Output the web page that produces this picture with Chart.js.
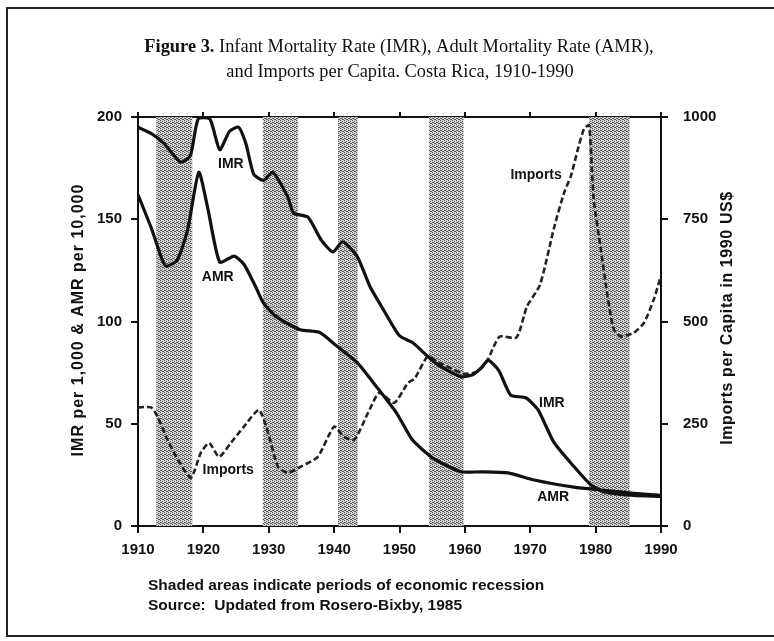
<!DOCTYPE html>
<html lang="en">
<head>
<meta charset="UTF-8">
<title>Figure 3 - Costa Rica IMR, AMR and Imports</title>
<script src="https://cdn.jsdelivr.net/npm/chart.js@4.4.2/dist/chart.umd.min.js"></script>
<style>
  html, body { margin: 0; padding: 0; background: #fff; }
  #wrap { width: 774px; height: 641px; position: relative; }
</style>
</head>
<body>
<div id="wrap"><canvas id="fig3" width="774" height="641"></canvas></div>
<script>
// values
const imrYears  = [1910, 1912, 1914, 1916.5, 1918, 1919.2, 1921, 1922.5, 1924, 1925.4, 1926.5, 1927.7, 1929.2, 1930.6, 1932.9, 1933.8, 1936, 1938, 1939.8, 1941.3, 1943.5, 1945.5, 1947.5, 1950, 1952, 1954.3, 1955.8, 1959.4, 1961.2, 1962.4, 1963.6, 1965.2, 1967, 1969.3, 1971.2, 1973.6, 1976.7, 1979.3, 1981.3, 1985.8, 1990];
const imrValues = [195, 192, 187, 178, 181, 199, 199, 184, 193, 195, 187, 172, 169, 173, 161, 153, 151, 140, 134, 139, 132, 117, 106, 93, 89.7, 83, 79, 73, 74, 77, 81, 76, 64, 62.7, 56.8, 41, 29, 20, 16.7, 15, 14.5];

const amrYears  = [1910, 1912, 1913.5, 1914.3, 1916, 1917.6, 1919.3, 1920.7, 1922.5, 1924.7, 1926.2, 1928, 1929.2, 1931.3, 1934.8, 1937.8, 1940.4, 1943.5, 1946.5, 1949.6, 1952, 1955.2, 1959.4, 1962.4, 1966.6, 1970.6, 1976.7, 1980.8, 1985.8, 1990];
const amrValues = [162, 146, 132, 127, 130, 145, 173, 155, 129, 132, 128, 117, 109, 102, 96, 94.6, 88, 80, 68, 55, 42, 33, 26.5, 26.5, 26, 22.5, 19, 17.6, 16, 15];

const importYears  = [1910, 1912, 1913, 1914.5, 1916.1, 1918.1, 1919.6, 1920.9, 1922.4, 1924.2, 1926.2, 1928.5, 1929.9, 1931.4, 1932.9, 1934.9, 1937.5, 1940, 1941.5, 1943.1, 1945.2, 1946.9, 1949.2, 1951.3, 1952.3, 1954.3, 1956, 1958, 1960, 1962, 1963.5, 1965.3, 1967.9, 1969.5, 1971.5, 1973.7, 1975.2, 1976.2, 1977.3, 1978.2, 1979, 1979.7, 1980.8, 1981.9, 1982.8, 1983.9, 1985.9, 1987.4, 1988.9, 1990];
const importValues = [290, 290, 267, 211, 162, 118, 179, 203, 169, 203, 243, 284, 228, 145, 130, 145, 169, 243, 218, 211, 277, 326, 301, 350, 360, 414, 400, 385, 372, 378, 407, 463, 461, 537, 590, 733, 816, 855, 922, 970, 980, 800, 676, 554, 480, 463, 473, 497, 554, 612];

// recession periods (shaded)
const recessionStart = [1912.8, 1929.1, 1940.6, 1954.5, 1979.0];
const recessionEnd   = [1918.3, 1934.5, 1943.6, 1959.8, 1985.2];

const yearTicks = [1910, 1920, 1930, 1940, 1950, 1960, 1970, 1980, 1990];
const rateTicks = [0, 50, 100, 150, 200];
const importTicks = [0, 250, 500, 750, 1000];

// inline curve labels, in data units
const curveLabels = [
  { text: 'IMR', x: 1924.2, y: 177, axis: 'y' },
  { text: 'AMR', x: 1922.2, y: 121.5, axis: 'y' },
  { text: 'Imports', x: 1970.9, y: 858, axis: 'y1' },
  { text: 'Imports', x: 1923.8, y: 137, axis: 'y1' },
  { text: 'IMR', x: 1973.3, y: 60, axis: 'y' },
  { text: 'AMR', x: 1973.5, y: 14, axis: 'y' }
];

const SANS = '"Liberation Sans", Arial, sans-serif';
const SERIF = '"Liberation Serif", "Times New Roman", serif';

// halftone-ish texture for the recession bands
const stipple = document.createElement('canvas');
stipple.width = 4; stipple.height = 4;
(function () {
  const p = stipple.getContext('2d');
  p.fillStyle = '#d2d2d2';
  p.fillRect(0, 0, 4, 4);
  p.fillStyle = '#5a5a5a';
  [[0, 0], [2, 1], [1, 2], [3, 3], [2, 3], [0, 2]].forEach(([a, b]) => p.fillRect(a, b, 1, 1));
})();

function toPoints(xs, ys) {
  return xs.map((x, i) => ({ x: x, y: ys[i] }));
}

const decor = {
  id: 'decor',
  beforeDatasetsDraw(chart) {
    const { ctx, chartArea: a, scales: { x } } = chart;
    ctx.save();
    ctx.fillStyle = ctx.createPattern(stipple, 'repeat');
    recessionStart.forEach((s, i) => {
      const l = x.getPixelForValue(s);
      const r = x.getPixelForValue(recessionEnd[i]);
      ctx.fillRect(l, a.top, r - l, a.bottom - a.top);
    });
    ctx.restore();
  },
  afterDraw(chart) {
    const { ctx, scales } = chart;
    ctx.save();
    ctx.fillStyle = '#111';
    ctx.strokeStyle = '#222';

    // frame of the figure
    ctx.lineWidth = 2;
    ctx.beginPath();
    ctx.moveTo(774, 8); ctx.lineTo(7, 8); ctx.lineTo(7, 636); ctx.lineTo(774, 636);
    ctx.stroke();

    // title
    ctx.textBaseline = 'middle';
    ctx.textAlign = 'left';
    const boldPart = 'Figure 3.';
    const restPart = ' Infant Mortality Rate (IMR), Adult Mortality Rate (AMR),';
    ctx.font = 'bold 18.4px ' + SERIF;
    const w1 = ctx.measureText(boldPart).width;
    ctx.font = '18.4px ' + SERIF;
    const w2 = ctx.measureText(restPart).width;
    const tx = 399 - (w1 + w2) / 2;
    ctx.font = 'bold 18.4px ' + SERIF;
    ctx.fillText(boldPart, tx, 47);
    ctx.font = '18.4px ' + SERIF;
    ctx.fillText(restPart, tx + w1, 47);
    ctx.textAlign = 'center';
    ctx.fillText('and Imports per Capita. Costa Rica, 1910-1990', 400, 72);

    // axis titles, both read bottom to top
    ctx.font = 'bold 16px ' + SANS;
    ctx.letterSpacing = '1px';
    ctx.save();
    ctx.translate(79, 320);
    ctx.rotate(-Math.PI / 2);
    ctx.fillText('IMR per 1,000 & AMR per 10,000', 0, 0);
    ctx.restore();
    ctx.letterSpacing = '0.6px';
    ctx.save();
    ctx.translate(728, 318);
    ctx.rotate(-Math.PI / 2);
    ctx.fillText('Imports per Capita in 1990 US$', 0, 0);
    ctx.restore();
    ctx.letterSpacing = '0px';

    // curve labels
    ctx.font = 'bold 14px ' + SANS;
    curveLabels.forEach(l => {
      const px = scales.x.getPixelForValue(l.x);
      const py = scales[l.axis].getPixelForValue(l.y);
      ctx.fillText(l.text, px, py);
    });

    // notes
    ctx.textAlign = 'left';
    ctx.font = 'bold 15.5px ' + SANS;
    ctx.fillText('Shaded areas indicate periods of economic recession', 148, 586);
    ctx.fillText('Source:  Updated from Rosero-Bixby, 1985', 148, 606);
    ctx.restore();
  }
};

const axisBits = {
  grid: { drawOnChartArea: false, color: '#111', lineWidth: 2, tickLength: 7 },
  border: { display: true, color: '#111', width: 2 }
};
const tickFont = { family: SANS, size: 15, weight: 'bold' };

new Chart(document.getElementById('fig3'), {
  type: 'line',
  data: {
    datasets: [
      {
        label: 'IMR',
        data: toPoints(imrYears, imrValues),
        yAxisID: 'y',
        borderColor: '#111',
        borderWidth: 3.2,
        pointRadius: 0,
        tension: 0.2
      },
      {
        label: 'AMR',
        data: toPoints(amrYears, amrValues),
        yAxisID: 'y',
        borderColor: '#111',
        borderWidth: 3.2,
        pointRadius: 0,
        tension: 0.2
      },
      {
        label: 'Imports',
        data: toPoints(importYears, importValues),
        yAxisID: 'y1',
        borderColor: '#222',
        borderWidth: 2.6,
        borderDash: [6, 3],
        pointRadius: 0,
        tension: 0.2
      }
    ]
  },
  options: {
    responsive: false,
    animation: false,
    devicePixelRatio: 1,
    layout: { padding: 0 },
    plugins: {
      legend: { display: false },
      tooltip: { enabled: false }
    },
    scales: {
      x: {
        type: 'linear',
        position: 'bottom',
        min: 1910, max: 1990,
        afterBuildTicks: s => { s.ticks = yearTicks.map(v => ({ value: v })); },
        ticks: { color: '#111', padding: 8, font: tickFont, callback: v => String(v), maxRotation: 0 },
        grid: axisBits.grid,
        border: axisBits.border,
        afterFit: s => { s.height = 115; }
      },
      xTop: {
        type: 'linear',
        display: true,
        position: 'top',
        min: 1910, max: 1990,
        afterBuildTicks: s => { s.ticks = yearTicks.map(v => ({ value: v })); },
        ticks: { display: false },
        grid: { drawOnChartArea: false, color: '#111', lineWidth: 2, tickLength: 5 },
        border: axisBits.border,
        afterFit: s => { s.height = 117; }
      },
      y: {
        position: 'left',
        min: 0, max: 200,
        afterBuildTicks: s => { s.ticks = rateTicks.map(v => ({ value: v })); },
        ticks: { color: '#111', padding: 9, font: tickFont, callback: v => String(v) },
        grid: axisBits.grid,
        border: axisBits.border,
        afterFit: s => { s.width = 138; }
      },
      y1: {
        position: 'right',
        min: 0, max: 1000,
        afterBuildTicks: s => { s.ticks = importTicks.map(v => ({ value: v })); },
        ticks: { color: '#111', padding: 15, font: tickFont, callback: v => String(v) },
        grid: axisBits.grid,
        border: axisBits.border,
        afterFit: s => { s.width = 113; }
      }
    }
  },
  plugins: [decor]
});
</script>
</body>
</html>
